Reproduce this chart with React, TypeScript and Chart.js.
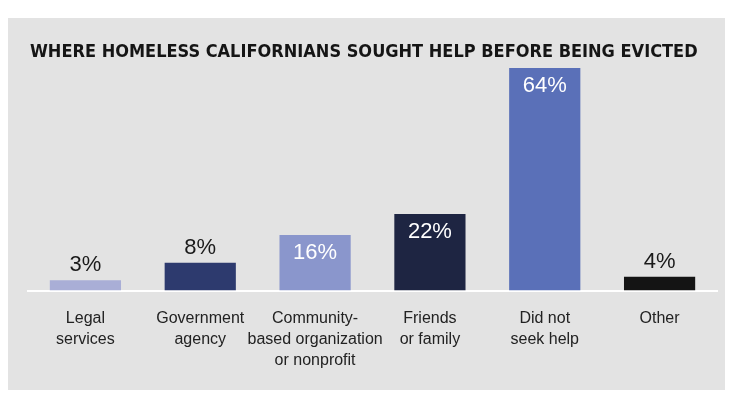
import React, { useEffect, useRef } from "react";
import { Chart, registerables } from "chart.js";

Chart.register(...registerables);

const categories: string[][] = [
  ["Legal", "services"],
  ["Government", "agency"],
  ["Community-", "based organization", "or nonprofit"],
  ["Friends", "or family"],
  ["Did not", "seek help"],
  ["Other"],
];
const values: number[] = [3, 8, 16, 22, 64, 4];
const barColors: string[] = ["#a9aed6", "#2d3a6e", "#8a96cc", "#1e2542", "#5a70b8", "#141414"];
const valueLabels: string[] = ["3%", "8%", "16%", "22%", "64%", "4%"];
const titleText = "WHERE HOMELESS CALIFORNIANS SOUGHT HELP BEFORE BEING EVICTED";

const bgPlugin = {
  id: "bgPanel",
  beforeDraw(chart: any) {
    const ctx = chart.ctx;
    ctx.save();
    ctx.fillStyle = "#ffffff";
    ctx.fillRect(0, 0, chart.width, chart.height);
    ctx.fillStyle = "#e3e3e3";
    ctx.fillRect(8, 18, 717, 372);
    ctx.fillStyle = "#151515";
    ctx.font = "bold 18px 'DejaVu Sans Condensed', sans-serif";
    ctx.textBaseline = "middle";
    ctx.textAlign = "left";
    ctx.fillText(titleText, 30, 52);
    ctx.restore();
  },
};

const valuePlugin = {
  id: "valueLabels",
  afterDatasetsDraw(chart: any) {
    const ctx = chart.ctx;
    const meta = chart.getDatasetMeta(0);
    ctx.save();
    ctx.font = "22px 'Liberation Sans', Arial, sans-serif";
    ctx.textAlign = "center";
    meta.data.forEach((bar: any, i: number) => {
      const v = values[i];
      if (v >= 15) {
        ctx.fillStyle = "#ffffff";
        ctx.textBaseline = "top";
        ctx.fillText(valueLabels[i], bar.x, bar.y + 7);
      } else {
        ctx.fillStyle = "#1a1a1a";
        ctx.textBaseline = "bottom";
        ctx.fillText(valueLabels[i], bar.x, bar.y - 4);
      }
    });
    ctx.restore();
  },
};

export default function App() {
  const ref = useRef<HTMLCanvasElement | null>(null);
  useEffect(() => {
    document.body.style.margin = "0";
    if (!ref.current) return;
    const chart = new Chart(ref.current, {
      type: "bar",
      data: {
        labels: categories,
        datasets: [
          {
            data: values,
            backgroundColor: barColors,
            barPercentage: 0.62,
            categoryPercentage: 1,
          },
        ],
      },
      options: {
        responsive: false,
        animation: false,
        layout: { padding: { left: 28, right: 22, top: 61, bottom: 4 } },
        plugins: { legend: { display: false }, tooltip: { enabled: false } },
        scales: {
          x: {
            grid: { display: false, drawTicks: false },
            border: { display: true, color: "#ffffff", width: 2 },
            ticks: {
              color: "#222222",
              padding: 18,
              maxRotation: 0,
              autoSkip: false,
              font: { size: 16, family: "'Liberation Sans', Arial, sans-serif", lineHeight: 1.3 },
            },
          },
          y: { display: false, min: 0, max: 66 },
        },
      },
      plugins: [bgPlugin, valuePlugin],
    });
    return () => chart.destroy();
  }, []);
  return <canvas ref={ref} width={739} height={393} style={{ display: "block" }} />;
}
